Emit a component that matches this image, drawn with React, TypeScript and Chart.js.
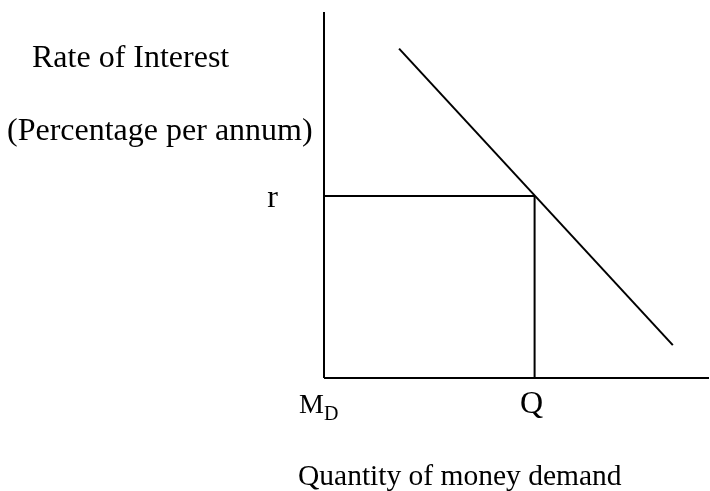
import { useEffect, useRef } from "react";
import { Chart, registerables } from "chart.js";

Chart.register(...registerables);

// ---- data ----
const demandX = [1.95, 9.06];
const demandY = [9.0, 0.9];
const rateR = 4.97;
const quantityQ = 5.47;
const axisXMax = 10;
const axisYMax = 10;

const yTitleLine1 = "Rate of Interest";
const yTitleLine2 = "(Percentage per annum)";
const xTitle = "Quantity of money demand";
const rLabel = "r";
const qLabel = "Q";
const originMain = "M";
const originSub = "D";

const FONT = "'Liberation Serif', 'Times New Roman', serif";

const textPlugin = {
  id: "econText",
  afterDraw(chart: any) {
    const { ctx, scales } = chart;
    const xs = scales.x;
    const ys = scales.y;
    const x0 = xs.getPixelForValue(0);
    const y0 = ys.getPixelForValue(0);
    const yTop = ys.getPixelForValue(axisYMax);
    ctx.save();
    ctx.fillStyle = "#000";
    ctx.textBaseline = "alphabetic";
    ctx.font = `32px ${FONT}`;

    ctx.textAlign = "left";
    ctx.fillText(yTitleLine1, x0 - 292, yTop + 55);
    ctx.fillText(yTitleLine2, x0 - 317, yTop + 128);

    ctx.textAlign = "right";
    ctx.fillText(rLabel, x0 - 46, ys.getPixelForValue(rateR) + 11);

    ctx.textAlign = "center";
    ctx.fillText(qLabel, xs.getPixelForValue(quantityQ) - 3, y0 + 35);

    ctx.textAlign = "left";
    ctx.font = `28px ${FONT}`;
    ctx.fillText(originMain, x0 - 25, y0 + 35);
    const mw = ctx.measureText(originMain).width;
    ctx.font = `20px ${FONT}`;
    ctx.fillText(originSub, x0 - 25 + mw, y0 + 42);

    ctx.font = `29.5px ${FONT}`;
    ctx.fillText(xTitle, x0 - 26, y0 + 107);
    ctx.restore();
  },
};

export default function App() {
  const ref = useRef<HTMLCanvasElement | null>(null);

  useEffect(() => {
    document.body.style.margin = "0";
    const canvas = ref.current;
    if (!canvas) return;
    const lineStyle = {
      borderColor: "#000",
      backgroundColor: "#000",
      borderWidth: 2,
      pointRadius: 0,
      showLine: true,
      fill: false,
      clip: false as any,
    };
    const chart = new Chart(canvas, {
      type: "scatter",
      data: {
        datasets: [
          {
            ...lineStyle,
            data: [
              { x: 0, y: 0 },
              { x: 0, y: axisYMax },
            ],
          },
          {
            ...lineStyle,
            data: [
              { x: 0, y: 0 },
              { x: axisXMax, y: 0 },
            ],
          },
          {
            ...lineStyle,
            data: demandX.map((x, i) => ({ x, y: demandY[i] })),
          },
          {
            ...lineStyle,
            data: [
              { x: 0, y: rateR },
              { x: quantityQ, y: rateR },
            ],
          },
          {
            ...lineStyle,
            data: [
              { x: quantityQ, y: rateR },
              { x: quantityQ, y: 0 },
            ],
          },
        ],
      },
      options: {
        responsive: false,
        animation: false,
        layout: { padding: { left: 324, right: 1, top: 12, bottom: 113 } },
        plugins: { legend: { display: false }, tooltip: { enabled: false } },
        scales: {
          x: { type: "linear", min: 0, max: axisXMax, display: false },
          y: { type: "linear", min: 0, max: axisYMax, display: false },
        },
      },
      plugins: [textPlugin],
    });
    return () => chart.destroy();
  }, []);

  return <canvas ref={ref} width={710} height={491} style={{ display: "block" }} />;
}
